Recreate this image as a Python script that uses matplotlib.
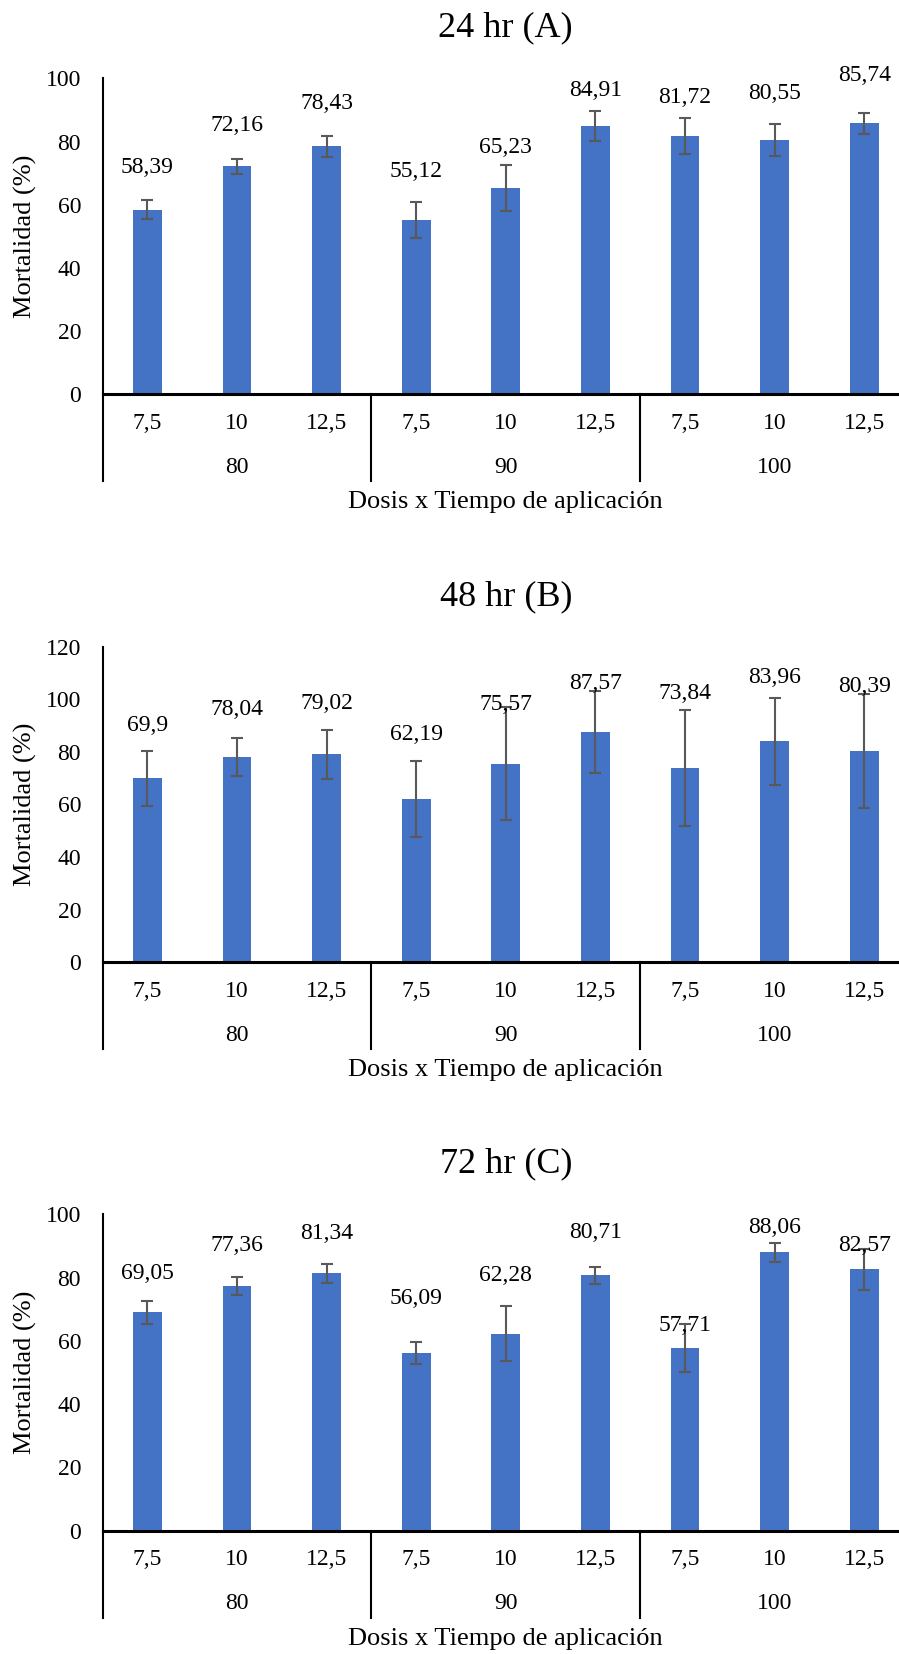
import numpy as np
import matplotlib.pyplot as plt
from matplotlib import transforms

plt.rcParams['font.family'] = ['Liberation Serif', 'DejaVu Serif']

# ---- data ----
dosis = ['7,5', '10', '12,5'] * 3
tiempos = ['80', '90', '100']

titles = ['24 hr (A)', '48 hr (B)', '72 hr (C)']

mort_24 = [58.39, 72.16, 78.43, 55.12, 65.23, 84.91, 81.72, 80.55, 85.74]
err_24 = [3.0, 2.4, 3.4, 5.6, 7.3, 4.8, 5.7, 5.1, 3.4]

mort_48 = [69.9, 78.04, 79.02, 62.19, 75.57, 87.57, 73.84, 83.96, 80.39]
err_48 = [10.5, 7.1, 9.4, 14.4, 21.4, 15.7, 22.2, 16.5, 21.6]

mort_72 = [69.05, 77.36, 81.34, 56.09, 62.28, 80.71, 57.71, 88.06, 82.57]
err_72 = [3.7, 2.9, 3.0, 3.4, 8.8, 2.7, 7.6, 3.0, 6.4]

ymax = [100, 120, 100]

# label heights (layout, data units) - labels were hand placed in the original
label_y_24 = [71.8, 85.2, 92.1, 70.5, 78.2, 96.0, 93.9, 95.3, 101.0]
label_y_48 = [89.9, 96.3, 98.5, 86.7, 98.1, 106.0, 102.3, 108.4, 104.8]
label_y_72 = [81.3, 90.1, 94.0, 73.4, 80.8, 94.2, 64.8, 95.9, 90.1]

W, H = 899, 1654
fig = plt.figure(figsize=(W / 100, H / 100), dpi=100)

# axes boxes in pixels: (left, right, top, bottom)
boxes = [(102.6, 909, 78.3, 394.3),
         (102.6, 909, 646.7, 962.3),
         (102.6, 909, 1214.3, 1530.7)]

panels = [(mort_24, err_24, label_y_24),
          (mort_48, err_48, label_y_48),
          (mort_72, err_72, label_y_72)]

bar_color = '#4472C4'
err_color = '#595959'
fs = 17

for i, ((vals, errs, lab_y), box) in enumerate(zip(panels, boxes)):
	l, r, t, b = box
	ax = fig.add_axes([l / W, 1 - b / H, (r - l) / W, (b - t) / H])
	x = np.arange(len(vals))
	ax.bar(x, vals, width=0.32, color=bar_color, zorder=2)
	ax.errorbar(x, vals, yerr=errs, fmt='none', ecolor=err_color,
				elinewidth=1.5, capsize=4.5, capthick=1.5, zorder=3)
	for xi, v, ly in zip(x, vals, lab_y):
		ax.text(xi, ly, f'{v:g}'.replace('.', ','), ha='center', va='center',
				fontsize=fs, zorder=4)

	ax.set_xlim(-0.5, len(vals) - 0.5)
	ax.set_ylim(0, ymax[i])
	ax.set_yticks(np.arange(0, ymax[i] + 1, 20))
	ax.tick_params(axis='y', length=0, pad=15.5, labelsize=fs)
	ax.set_xticks([])
	for s in ['top', 'right']:
		ax.spines[s].set_visible(False)
	ax.spines['left'].set_linewidth(1.5)
	ax.spines['bottom'].set_linewidth(2.2)

	aw = r - l
	ah = b - t
	ax.text(-(l - 25) / aw, 0.5, 'Mortalidad (%)', transform=ax.transAxes,
			rotation=90, ha='center', va='center', fontsize=19)

	trans = transforms.blended_transform_factory(ax.transData, ax.transAxes)
	# first level labels (dosis)
	for xi, d in zip(x, dosis):
		ax.text(xi, -29 / ah, d, transform=trans, ha='center', va='center',
				fontsize=fs)
	# second level labels (tiempo)
	for g, tlab in enumerate(tiempos):
		ax.text(g * 3 + 1, -73 / ah, tlab, transform=trans, ha='center',
				va='center', fontsize=fs)
	# group separators
	for sx in [-0.5, 2.5, 5.5, 8.5]:
		ax.plot([sx, sx], [0, -87 / ah], transform=trans, color='black',
				lw=1.5, clip_on=False)

	ax.text(4, -108 / ah, 'Dosis x Tiempo de aplicación', transform=trans,
			ha='center', va='center', fontsize=19)
	ax.text(4, 1 + 50 / ah, titles[i], transform=trans, ha='center',
			va='center', fontsize=26)

fig.savefig('out.png', dpi=100)
